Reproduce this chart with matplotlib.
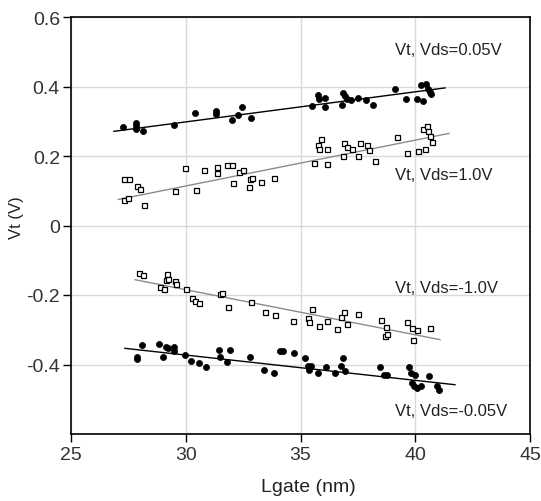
import numpy as np
import matplotlib
matplotlib.use("Agg")
import matplotlib.pyplot as plt

plt.rcParams['font.family'] = ['Liberation Sans', 'DejaVu Sans']

# ---- data (Lgate in nm, Vt in V) ----
s1_x = [27.25, 27.83, 27.83, 27.83, 28.15, 29.49, 30.39, 31.32, 31.32, 32.00, 32.28, 32.45, 32.84,
        35.50, 35.75, 35.79, 36.07, 36.07, 36.80, 36.84, 36.93, 37.01, 37.20, 37.49, 37.85, 38.17,
        39.13, 39.58, 40.06, 40.32, 40.25, 40.45, 40.57, 40.64, 40.67]
s1_y = [0.284, 0.294, 0.286, 0.277, 0.271, 0.289, 0.323, 0.329, 0.322, 0.303, 0.319, 0.341, 0.310,
        0.345, 0.375, 0.363, 0.366, 0.341, 0.348, 0.380, 0.373, 0.365, 0.361, 0.366, 0.361, 0.347,
        0.392, 0.365, 0.363, 0.359, 0.403, 0.406, 0.394, 0.384, 0.377]

s2_x = [27.31, 27.54, 27.89, 28.00, 27.31, 27.50, 28.19, 29.54, 29.95, 30.45, 30.80, 31.37, 31.37,
        31.78, 32.01, 32.07, 32.33, 32.51, 32.74, 32.80, 32.89, 33.29, 33.83, 35.57, 35.78, 35.81,
        35.89, 36.14, 36.14, 36.85, 36.91, 37.04, 37.23, 37.52, 37.58, 37.91, 37.97, 38.25, 39.19,
        39.63, 40.13, 40.42, 40.32, 40.52, 40.57, 40.64, 40.74]
s2_y = [0.133, 0.133, 0.113, 0.104, 0.073, 0.080, 0.060, 0.100, 0.166, 0.101, 0.161, 0.169, 0.152,
        0.173, 0.173, 0.122, 0.154, 0.161, 0.110, 0.135, 0.137, 0.126, 0.137, 0.181, 0.231, 0.219,
        0.250, 0.219, 0.178, 0.200, 0.238, 0.225, 0.221, 0.200, 0.238, 0.231, 0.217, 0.186, 0.254,
        0.209, 0.213, 0.219, 0.277, 0.286, 0.272, 0.257, 0.240]

s3_x = [27.98, 28.12, 29.17, 29.14, 29.24, 28.88, 29.05, 29.55, 29.58, 30.00, 30.27, 30.42, 30.59,
        31.49, 31.57, 31.83, 32.83, 33.44, 33.89, 34.67, 35.34, 35.38, 35.50, 35.79, 36.14, 36.58,
        36.78, 36.90, 37.01, 37.50, 38.50, 38.73, 38.68, 38.78, 39.63, 39.84, 40.06, 39.92, 40.64]
s3_y = [-0.136, -0.142, -0.141, -0.156, -0.154, -0.177, -0.184, -0.160, -0.169, -0.182, -0.210,
        -0.216, -0.223, -0.197, -0.194, -0.235, -0.220, -0.249, -0.258, -0.276, -0.266, -0.277,
        -0.239, -0.288, -0.275, -0.298, -0.263, -0.249, -0.283, -0.256, -0.271, -0.293, -0.317,
        -0.311, -0.279, -0.294, -0.302, -0.329, -0.294]

s4_x = [27.86, 27.86, 28.11, 28.82, 29.00, 29.14, 29.24, 29.49, 29.49, 29.95, 30.23, 30.56, 30.88,
        31.45, 31.49, 31.78, 31.94, 32.80, 33.40, 33.83, 34.12, 34.24, 34.73, 35.18, 35.34, 35.38,
        35.44, 35.75, 36.10, 36.52, 36.75, 36.87, 36.95, 38.46, 38.65, 38.76, 39.74, 39.80, 39.99,
        39.84, 39.96, 40.06, 40.25, 40.60, 40.93, 41.03]
s4_y = [-0.377, -0.384, -0.343, -0.342, -0.377, -0.350, -0.352, -0.350, -0.362, -0.372, -0.391,
        -0.396, -0.407, -0.359, -0.378, -0.394, -0.359, -0.377, -0.415, -0.425, -0.361, -0.361,
        -0.367, -0.380, -0.405, -0.415, -0.403, -0.425, -0.408, -0.425, -0.403, -0.380, -0.420,
        -0.407, -0.431, -0.431, -0.407, -0.425, -0.431, -0.452, -0.461, -0.468, -0.461, -0.434,
        -0.463, -0.473]

# fitted trend lines: slope (V/nm), intercept (V), x-range (nm)
fit_slope = [0.00866, 0.01319, -0.01298, -0.00728]
fit_icpt = [0.0383, -0.282, 0.2047, -0.1544]
fit_xmin = [26.87, 27.06, 27.79, 27.35]
fit_xmax = [41.30, 41.47, 41.08, 41.73]

labels = ["Vt, Vds=0.05V", "Vt, Vds=1.0V", "Vt, Vds=-1.0V", "Vt, Vds=-0.05V"]
label_x = [39.12, 39.12, 39.12, 39.12]
label_y = [0.507, 0.147, -0.179, -0.533]

xticks = [25, 30, 35, 40, 45]
yticks = [-0.4, -0.2, 0, 0.2, 0.4, 0.6]
ytick_labels = ["-0.4", "-0.2", "0", "0.2", "0.4", "0.6"]

# ---- figure ----
fig = plt.figure(figsize=(5.41, 5.02), dpi=100)
ax = fig.add_axes([71 / 541, 1 - 435 / 502, (530 - 71) / 541, (435 - 18) / 502])

series = [(s1_x, s1_y, 'o', 'black'), (s2_x, s2_y, 's', 'white'),
          (s3_x, s3_y, 's', 'white'), (s4_x, s4_y, 'o', 'black')]
line_colors = ['black', '#8c8c8c', '#8c8c8c', 'black']

for i, (xs, ys, m, fc) in enumerate(series):
    xl = np.array([fit_xmin[i], fit_xmax[i]])
    ax.plot(xl, fit_slope[i] * xl + fit_icpt[i], color=line_colors[i], lw=1.0, zorder=2)
    if m == 'o':
        ax.plot(xs, ys, linestyle='none', marker='o', ms=4.4, mfc='black', mec='black',
                mew=0.5, zorder=3)
    else:
        ax.plot(xs, ys, linestyle='none', marker='s', ms=3.6, mfc='white', mec='black',
                mew=0.9, zorder=3)

for t, lx, ly in zip(labels, label_x, label_y):
    ax.text(lx, ly, t, fontsize=12, ha='left', va='center', color='#222222')

ax.set_xlim(25, 45)
ax.set_ylim(-0.6, 0.6)
ax.set_xticks(xticks)
ax.set_yticks(yticks)
ax.set_yticklabels(ytick_labels)
ax.grid(True, color='#d9d9d9', lw=1.0)
ax.set_axisbelow(True)
ax.tick_params(direction='out', length=6, width=1, labelsize=14, colors='black',
               top=False, right=False, labelcolor='#333333')
ax.tick_params(axis='y', pad=2)
ax.tick_params(axis='x', pad=3)
for sp in ax.spines.values():
    sp.set_linewidth(1.2)
    sp.set_color('black')

ax.set_xlabel("Lgate (nm)", fontsize=14, color='#222222', labelpad=2)
ax.xaxis.set_label_coords((308 - 71) / (530 - 71), -(488 - 435) / (435 - 18))
ax.xaxis.label.set_va('center')
ax.set_ylabel("Vt (V)", fontsize=12, color='#222222')
ax.yaxis.set_label_coords(-(71 - 17) / (530 - 71), (435 - 218) / (435 - 18))
ax.yaxis.label.set_va('center')

fig.savefig("out.png", dpi=100)
